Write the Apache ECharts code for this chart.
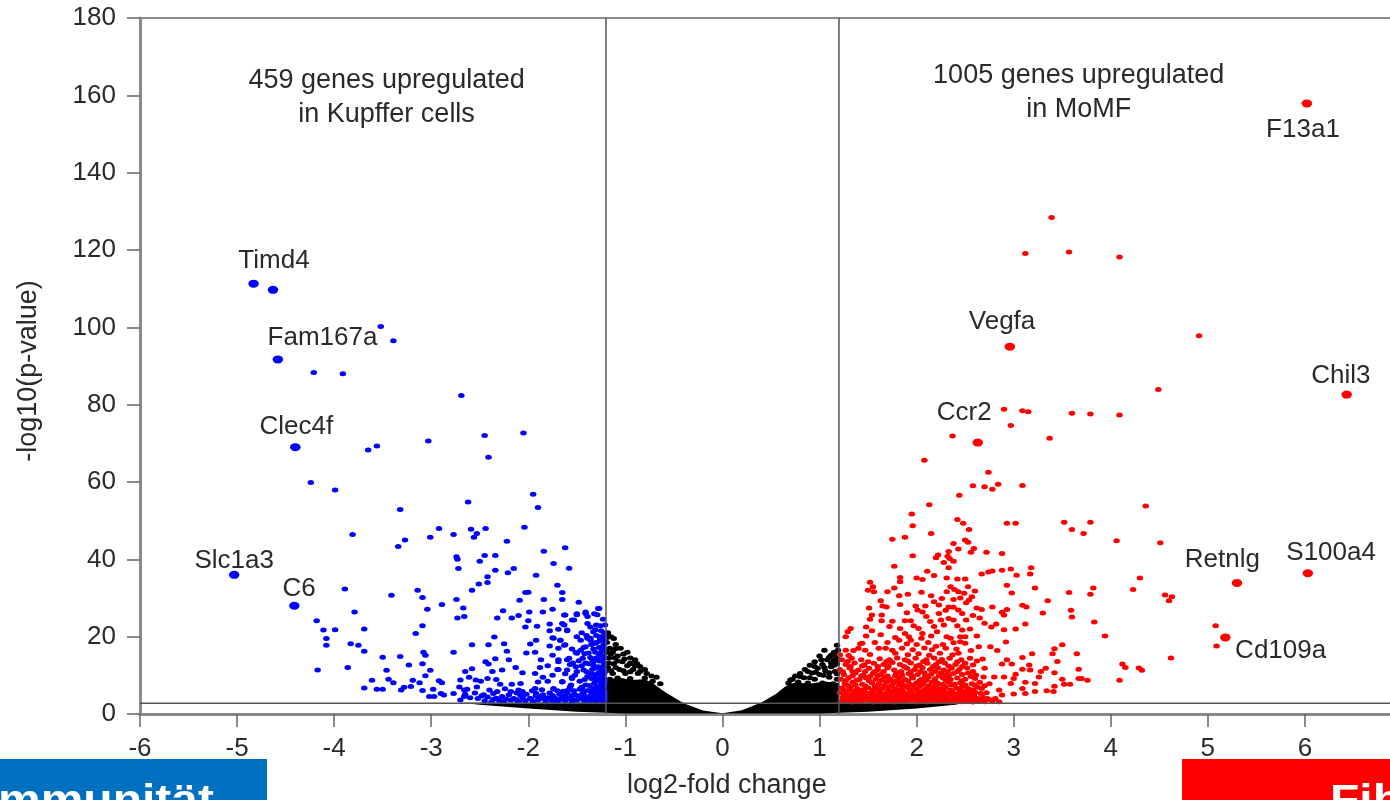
<!DOCTYPE html>
<html>
<head>
<meta charset="utf-8">
<title>Volcano plot</title>
<script src="https://cdn.jsdelivr.net/npm/echarts@6/dist/echarts.min.js"></script>
<style>
html,body{margin:0;padding:0;background:#fff;overflow:hidden}
#chart{width:1390px;height:800px;filter:blur(0.55px)}
</style>
</head>
<body>
<div id="chart"></div>
<script>
const xTicks = [-6,-5,-4,-3,-2,-1,0,1,2,3,4,5,6,7];
const yTicks = [0,20,40,60,80,100,120,140,160,180];
const foldCut = 1.2;
const pCut = 2.8;

const blueLarge = [[-4.83,111.3],[-4.63,109.7],[-4.58,91.7],[-4.4,69],[-5.03,36],[-4.41,28]];
const redLarge = [[6.02,157.9],[2.96,95],[2.63,70.2],[6.43,82.6],[5.3,33.9],[6.03,36.4],[5.18,19.8]];

const geneNames = ['Timd4','Fam167a','Clec4f','Slc1a3','C6','F13a1','Vegfa','Ccr2','Chil3','S100a4','Retnlg','Cd109a'];
const geneX = [-4.62,-4.12,-4.39,-5.03,-4.36,5.98,2.88,2.49,6.37,6.27,5.15,5.75];
const geneY = [117.2,97.3,74.2,39.6,32.3,151,101.4,77.9,87.4,41.7,39.8,16.3];

const noteTexts = ['459 genes upregulated\nin Kupffer cells','1005 genes upregulated\nin MoMF'];
const noteX = [-3.46,3.67];
const noteY = [159.3,160.8];

const blackMass = [[-2.7,2.9],[-1.2,3],[-1.2,9],[-1.05,9.4],[-0.95,8.8],[-0.8,9],[-0.72,8],[-0.6,5.8],[-0.4,2.8],[-0.2,0.9],[0,0.2],[0.2,1],[0.4,3],[0.55,5.2],[0.65,7.2],[0.75,8.2],[0.9,7.8],[1.05,8.4],[1.2,8],[1.2,3],[2.5,3],[2.4,2.4],[2,1.4],[1.5,0.6],[1,0.1],[-1,0.1],[-1.5,0.6],[-2,1.4],[-2.5,2.4]];

const blackPoints = [[-1.18,21],[-1.15,20],[-1.12,19.5],[-1.19,18.5],[-1.1,18],[-1.16,17],[-1.05,17],[-1.13,16],[-1.02,15.5],[-0.98,16],[-1.08,15],[-1.17,14.5],[-0.95,14.5],[-1.03,13.5],[-0.9,14],[-0.88,13],[-1.12,13],[-0.98,12.5],[-0.85,12.3],[-1.18,12],[-1.06,11.5],[-0.92,11.5],[-0.8,11.5],[-0.78,10.5],[-0.87,10.5],[-1,10.5],[-1.13,10.5],[-0.73,9.8],[-0.68,9.5],[-0.8,9.3],[-0.95,9.2],[-1.08,9.3],[-1.16,9],[-0.72,8.5],[-0.85,8.2],[-1.02,8],[-1.15,8],[-0.64,7.8],[-0.93,7.4],
[1.18,17.8],[1.15,16],[1.05,16.5],[1.12,15.2],[1.18,15],[1,15],[1.08,14],[1.15,14],[1.18,13],[0.95,13.5],[1.03,12.8],[0.9,12.6],[1.12,12.2],[0.98,11.8],[1.06,11.2],[0.85,11.5],[0.92,10.6],[0.8,10.5],[1.16,11],[1,10.2],[0.75,9.8],[0.84,9.4],[0.95,9],[1.1,9.5],[1.18,9],[0.7,8.8],[0.78,8.3],[0.88,8],[1.03,8],[1.14,7.8],[0.97,7.2],[1.18,6.9],
[-1.19,19.8],[-1.1,16.9],[-1.15,15.5],[-1.08,13.7],[-1.17,13.2],[-1.01,14.2],[-0.95,13.1],[-1.1,12],[-1.15,11.2],[-1.02,11.2],[-0.95,10.9],[-0.9,12.5],[-0.85,11],[-1.19,16],[-1.11,14.5],[-0.92,13],
[1.19,16.5],[1.1,14.7],[1.02,14],[1.18,14],[1.12,13.2],[0.95,12.3],[1.05,12],[1.15,12.6],[0.88,11],[1.1,10.7],[0.96,10.8],[1.18,10.4],[1.04,10],[0.8,9.7],[0.72,9],[0.68,8],[0.9,9.4]];

const bluePoints = [[-3.52,100.2],[-3.39,96.5],[-4.21,88.3],[-3.91,88],[-2.69,82.4],[-2.05,72.7],[-2.45,72],[-3.03,70.6],[-3.56,69.3],[-3.65,68.3],[-2.41,66.4],[-4.24,59.9],[-3.99,57.9],
[-3.32,52.9],[-2.62,54.8],[-1.95,56.8],[-1.9,53.4],[-3.81,46.4],[-2.92,48],[-3.01,45.7],[-2.77,46.4],[-2.59,47.8],[-2.44,48],[-2.53,46.7],[-2.56,45.7],[-2.04,48.3],[-2.22,44.7],[-3.27,45],[-3.34,43.3],[-1.84,42.1],[-1.62,43],[-2.74,40.7],[-2.73,40],[-2.72,37.6],[-2.5,39.5],[-2.45,41],[-2.34,41],[-2.34,37.2],[-2.21,36.5],[-2.15,37.6],[-1.74,38.9],[-1.58,37.7],[-1.92,35.9],[-2.42,35.5],[-2.42,34],[-2.51,33.6],[-2.58,32],[-1.7,33.3],[-1.65,31.4],[-1.65,29.6],[-2.03,31.4],[-2,31.5],[-2.09,29.4],[-1.84,29.6],[-1.48,28.9],[-1.28,27.3],
[-3.89,32.3],[-3.41,30.7],[-3.14,32],[-3.09,30.1],[-3.04,27.1],[-2.89,28.3],[-2.74,29.6],[-2.67,27.4],[-2.73,24.8],[-2.66,25.2],[-3.79,26.4],[-4.18,24.1],[-4.11,21.7],[-3.99,21.8],[-4.08,19.5],[-4.08,17.8],[-3.69,22],[-3.83,18.2],[-3.75,17.8],[-3.69,16.2],[-4.17,11.4],[-3.86,12],[-3.5,14.7],[-3.32,14.9],[-3.23,12.7],[-3.46,11.3],[-3.61,8.7],[-3.44,9],[-3.39,8.1],[-3.69,6.7],[-3.56,6.4],[-3.5,6.4],[-3.31,6.2],[-3.28,6.9],[-3.21,7.1],[-3.19,8.7],[-3.12,8.1],[-3.09,6.1],[-3.06,9.9],[-3.01,11.3],[-3.09,13],[-3.08,16],[-3.06,15.2],[-3.16,20.8],[-3.09,22.8],[-2.77,16],[-2.58,17.9],[-2.41,17.9],[-2.35,19.9],[-2.25,18.2],[-2.22,16.2],
[-2.32,24.8],[-2.26,26.7],[-2.17,24.8],[-2.1,25.5],[-1.99,26.4],[-2,24.1],[-2.03,22.5],[-1.91,22.7],[-1.85,26.4],[-1.75,27.1],[-1.63,25.6],[-1.5,25.7],[-1.41,26.4],[-1.29,25.7],[-1.39,25.2],[-1.78,23.3],[-1.78,21.5],[-1.63,23],[-1.53,24.3],[-1.6,21.7],[-1.74,19.6],[-1.67,19.1],[-1.63,17.8],[-1.78,17.6],[-1.92,19.1],[-1.98,18.1],[-2.02,15.8],[-1.93,16],[-1.87,14],[-1.75,15.2],[-1.69,13.5],[-1.6,14],[-1.5,15.7],[-1.41,17.4],[-1.36,19.6],[-1.26,20],[-1.46,19.1],
[-2.34,14.3],[-2.44,13.5],[-2.41,12.9],[-2.2,14],[-2.13,12],[-2.06,10.7],[-1.93,10.5],[-1.88,12],[-1.7,11.5],[-1.55,9.2],[-1.65,8.3],[-1.9,8.3],[-2.58,11.7],[-2.65,11],[-2.37,11],[-2.27,11.4],[-2.7,8.8],[-2.61,9.5],[-2.54,8.8],[-2.49,8.5],[-2.42,9.2],[-2.33,8.9],[-2.29,7.7],[-2.17,7.7],[-2.08,7.9],[-2.71,7],[-2.66,6.2],[-2.53,7],[-2.32,5.8],[-2.18,5.8],[-2.06,5.8],[-1.93,6.6],[-1.74,6.4],[-1.57,7],[-2.92,8.6],[-2.89,8.1],[-2.98,6.4],[-3.02,4.5],[-2.97,4.5],[-2.9,5.3],[-2.87,4.9],[-2.77,5.3],[-2.66,4.5],[-2.7,3.6],
[-1.27,27.3],[-1.41,26],[-1.32,25.9],[-1.62,25.6],[-1.5,25.9],[-1.55,24.3],[-1.65,23.4],[-1.39,23.4],[-1.6,21.5],[-1.69,21.9],[-1.33,21.3],[-1.75,19.7],[-1.67,19.1],[-1.62,17.9],[-1.69,17],[-1.39,19.6],[-1.36,19.1],[-1.26,19.6],[-1.43,17.2],[-1.31,18.3],[-1.24,17.4],[-1.51,15.9],[-1.58,14.4],[-1.69,14],[-1.44,14.4],[-1.26,15.7],[-1.33,13.5],[-1.51,12.2],[-1.69,11.5],[-1.6,11.4],[-1.43,11.4],[-1.29,11.8],[-1.39,9.7],[-1.26,9.2],[-1.55,9.5],[-1.65,8.4],[-1.41,7.5],[-1.56,7.5],[-1.29,7.1],[-1.74,6.6],
[-2.45,3.4],[-2.38,3.1],[-2.3,3.5],[-2.25,3.2],[-2.18,3.6],[-2.1,3.1],[-2.03,3.4],[-1.95,3.2],[-1.9,3.6],[-1.82,3.1],[-1.75,3.4],[-1.7,3.2],[-1.62,3.5],[-1.55,3.1],[-1.5,3.6],[-1.42,3.2],[-1.36,3.5],[-1.3,3.1],[-1.24,3.4],
[-2.6,4.2],[-2.52,4],[-2.42,4.4],[-2.33,4.1],[-2.27,4.5],[-2.15,4],[-2.06,4.4],[-1.98,4.1],[-1.88,4.5],[-1.8,4.2],[-1.72,4],[-1.65,4.4],[-1.58,4.1],[-1.47,4.5],[-1.4,4],[-1.33,4.3],[-1.26,4.1],[-1.21,4.5],
[-2.65,5.1],[-2.55,5.4],[-2.46,5],[-2.36,5.3],[-2.2,5],[-2.12,5.4],[-2.02,5.1],[-1.92,5.3],[-1.85,5],[-1.78,5.4],[-1.68,5.1],[-1.6,5.4],[-1.52,5],[-1.44,5.3],[-1.35,5.1],[-1.28,5.4],[-1.22,5.1],
[-2.63,6.4],[-2.4,6.2],[-2.24,6.5],[-2.1,6.2],[-1.96,6],[-1.86,6.3],[-1.7,6],[-1.59,6.2],[-1.47,6.4],[-1.38,6.1],[-1.3,6.4],[-1.23,6.2],
[-1.22,8],[-1.3,8.8],[-1.24,9.8],[-1.35,10.5],[-1.21,11],[-1.28,12.2],[-1.22,13],[-1.38,13],[-1.3,14.5],[-1.22,15],[-1.42,15.6],[-1.24,16.5],[-1.33,16.8],[-1.22,18],[-1.3,18.5],[-1.22,20],[-1.25,21.5],[-1.21,23],[-1.3,23],[-1.23,24.5],[-1.36,22.5],[-1.45,21],[-1.5,20],[-1.45,12.5],[-1.5,11],[-1.52,10],[-1.47,8.5],[-1.37,7.4],[-1.22,6.9],[-1.21,9],[-1.27,10.7],[-1.34,11.6],[-1.24,14],[-1.36,14.6],[-1.27,17.2],[-1.21,19],[-1.57,12.8],[-1.62,10.4],[-1.75,10],[-1.8,8.5],[-1.8,12.5],[-1.85,9.5],
[-1.97,3.8],[-1.89,3.9],[-1.83,3.8],[-1.76,3.7],[-1.68,3.7],[-1.61,3.8],[-1.54,3.7],[-1.48,3.9],[-1.43,3.8],[-1.37,3.8],[-1.31,3.7],[-1.25,3.8],[-1.21,3.7],[-2.36,3.8],[-2.23,3.9],[-2.12,3.7],[-2.05,3.8],
[-1.75,4.8],[-1.62,4.7],[-1.55,4.8],[-1.49,4.7],[-1.42,4.8],[-1.36,4.6],[-1.3,4.8],[-1.24,4.7],[-1.92,4.7],[-2.08,4.8],[-2.48,4.7],
[-1.53,6],[-1.42,6],[-1.34,5.8],[-1.26,5.8],[-1.21,5.7],[-1.64,5.9],[-1.45,6.9],[-1.33,6.7],[-1.26,6.6],[-1.25,7.6],[-1.32,8],[-1.21,8.4],[-1.26,8.5],[-1.42,8.9],[-1.35,9.2],[-1.31,9.7],[-1.22,10.3],[-1.29,10.4],[-1.4,10.9],[-1.25,11.5],[-1.33,12.6],[-1.41,13.2],[-1.23,12.3],[-1.27,13.7],[-1.34,14],[-1.48,13.8],[-1.54,13.2],[-1.22,14.5],[-1.27,15.1],[-1.38,15.8],[-1.31,16],[-1.22,16.9],[-1.46,16.5],[-1.55,16.8],[-1.27,18.8],[-1.35,18],[-1.22,19.5],[-1.3,20.3],[-1.4,20.3],[-1.22,21],[-1.31,21.8],[-1.26,22.8]];

const redPoints = [[3.39,128.4],[3.12,119.1],[3.57,119.5],[4.09,118.2],[4.91,97.8],[4.49,83.9],[2.9,78.8],[3.09,78.4],[3.15,78.2],[3.6,77.8],[3.79,77.6],[4.09,77.3],[2.97,74.6],[2.37,71.9],[3.37,71.3],[2.08,65.6],[2.74,62.5],[2.58,59],[2.7,58.8],[2.84,59.4],[3.09,59.1],[2.78,58.1],
[2.44,56.6],[2.13,54.1],[4.36,53.8],[1.95,51.7],[2.42,50.3],[2.48,49.3],[2.93,49.3],[3.02,49.3],[3.52,49.6],[3.6,47.7],[3.72,46.7],[3.79,49.6],[4.06,44.8],[4.51,44.3],[1.96,48.7],[2.54,47.7],[2.15,46.7],[1.88,45.7],[1.75,45.2],[2.38,44.1],[2.5,45],[2.53,44.4],[2.43,42.7],[2.59,42.8],[2.56,41.8],[2.72,41.8],[2.88,41.5],[2.33,42],[2.32,40.8],[2.34,40.2],[2.22,41.1],[2.2,40.4],[1.96,40.9],[2.28,39.2],[2.38,39.5],[2.33,37.8],[1.77,38.2],[2.11,36.9],[2,35.2],[2.06,34.8],[2.18,35.8],[2.31,35.2],[2.42,34.9],[2.5,34.9],[1.83,35.3],[1.83,34.2],[2.67,36.2],[2.74,36.7],[2.78,37],[2.88,37.2],[2.97,37.5],[3.03,35.9],[3.18,37.8],[3.17,36.2],[4.3,35.2],[3.82,32.6],[3.79,31],[4.23,32.2],[4.56,30.8],[4.63,30.3],[4.6,29.3],[5.08,22.8],[5.09,17.6],[4.62,14.5],
[1.52,34.1],[1.55,32.9],[1.5,32],[1.56,31.6],[1.7,31.6],[1.77,32.6],[1.82,30.6],[1.91,31],[2.31,31.6],[2.35,32.9],[2.39,32.2],[2.43,31.6],[2.49,31.2],[2.53,32.9],[2.93,33.3],[2.98,31.3],[3.22,32.6],[3.57,31.4],[3.35,29.3],[2.26,29.9],[2.18,29],[2.23,28.2],[2.38,29.6],[2.57,30.3],[2.54,29.5],[2.51,28.8],[1.63,29.3],[1.65,27.9],[1.69,27.7],[1.83,28.3],[1.51,27.4],[1.99,27.9],[2.01,26.9],[2.09,27.9],[2.06,26.4],[2.33,27.7],[2.38,27.6],[2.43,26.9],[2.47,26],[2.62,27.4],[2.67,27],[2.78,27.7],[2.93,27],[2.88,26.3],[2.9,25.6],[3.09,28.1],[3.13,27.7],[3.59,26.8],[3.6,25.1],[3.3,26.1],[3.83,23.8],[3.94,20.2],
[1.54,25.6],[1.52,24.5],[1.64,25.6],[1.64,24.1],[1.88,24.1],[1.94,24.1],[2.23,26],[2.14,23.9],[2.25,24.3],[2.33,24.7],[2.38,24.3],[2.51,24.3],[2.82,23.3],[2.77,22.5],[2.9,21.8],[3.02,22],[3.12,23.3],[1.48,22.5],[1.54,21.5],[1.72,22.6],[1.83,22.1],[1.63,20.5],[1.48,20.2],[1.32,22.1],[1.29,21.3],[1.27,20],[2.02,22.1],[2.06,20.8],[2.18,22.6],[2.21,21.3],[2.31,20],[2.47,21.7],[2.5,20],[2.62,20.2],[1.88,20.8],[1.82,19.1],[1.94,19.1],[2.92,18.6],[2.5,18.3],[2.64,17.4],[1.44,18.3],[1.27,16.5],[1.35,16.4],[1.47,16.5],[1.61,17],[1.68,17],[2.76,17.4],[2.83,16.4],[3.19,15.6],[3.5,17.9],[3.42,16.9],[3.4,15.6],[3.65,15.6],[3.09,14.6],[2.93,14],[2.88,12.9],[2.98,12.9],[3.16,12.7],[3.45,13.6],[3.67,11.6],[4.12,12.9],[4.15,12],[4.29,11.9],[4.32,11.3],[4.09,8.7],[3.76,8.7],[3.7,9.2],
[2.7,11.8],[3.09,11.6],[3.17,11.4],[3.33,11.8],[3.28,11],[3.42,10.7],[3.26,9.6],[2.9,9.6],[3.02,10.3],[3,9.2],[2.8,9.6],[2.69,9.6],[2.61,10.1],[3.5,9],[3.52,7.7],[3.58,7.7],[3.67,9.2],[3.12,8.2],[3.22,7.9],[3.42,7.2],[3.34,6],[3.41,5.8],[3.22,5.8],[3.12,5.3],[3,5.2],[2.97,7.9],[3.09,6.6],[2.85,6.2],[2.88,4.9],[2.81,4],[2.73,4],[2.67,6.6],
[1.22,3.2],[1.27,3.5],[1.33,3.1],[1.38,3.4],[1.43,3.2],[1.49,3.6],[1.55,3.1],[1.6,3.4],[1.66,3.2],[1.72,3.5],[1.77,3.1],[1.83,3.4],[1.89,3.2],[1.94,3.6],[2,3.1],[2.05,3.3],[2.11,3.1],[2.17,3.5],[2.23,3.2],[2.28,3.4],[2.34,3.1],[2.4,3.5],[2.46,3.2],[2.52,3.4],[2.58,3.1],[2.64,3.3],[2.7,3.2],[2.78,3.3],[2.85,3.2],
[1.24,4.3],[1.3,4.6],[1.36,4.2],[1.41,4.5],[1.47,4.1],[1.53,4.4],[1.59,4.7],[1.64,4.2],[1.7,4.5],[1.75,4.1],[1.81,4.6],[1.87,4.3],[1.92,4.6],[1.98,4.2],[2.04,4.5],[2.09,4.1],[2.15,4.4],[2.21,4.7],[2.26,4.2],[2.32,4.5],[2.38,4.1],[2.44,4.4],[2.5,4.2],[2.56,4.5],[2.62,4.1],[2.68,4.4],
[1.21,5.5],[1.28,5.8],[1.35,5.3],[1.42,5.6],[1.46,5.9],[1.52,5.4],[1.62,5.7],[1.68,5.3],[1.74,5.8],[1.8,5.5],[1.86,5.9],[1.95,5.4],[2.02,5.7],[2.08,5.3],[2.13,5.8],[2.2,5.5],[2.25,5.9],[2.31,5.4],[2.37,5.7],[2.43,5.3],[2.48,5.8],[2.55,5.5],[2.6,5.7],[2.66,5.3],[2.72,5.5],
[1.23,6.7],[1.32,7],[1.39,6.5],[1.5,6.8],[1.57,7.1],[1.65,6.6],[1.71,6.9],[1.78,6.5],[1.9,7],[1.97,6.7],[2.03,7.1],[2.1,6.6],[2.18,6.9],[2.24,6.5],[2.3,7],[2.41,6.7],[2.47,7.1],[2.53,6.6],[2.63,6.9],[2.7,7.3],
[1.26,7.8],[1.34,8.2],[1.44,7.7],[1.54,8.1],[1.61,7.8],[1.69,8.3],[1.76,7.9],[1.84,8.2],[1.93,7.7],[2,8.1],[2.07,7.8],[2.16,8.3],[2.22,7.9],[2.33,8.2],[2.39,7.7],[2.45,8.1],[2.57,7.8],[2.65,8.2],[2.75,7.8],
[1.22,9],[1.3,9.4],[1.41,8.9],[1.48,9.3],[1.58,9],[1.67,9.5],[1.73,9],[1.82,9.4],[1.88,8.9],[1.96,9.3],[2.05,9],[2.12,9.5],[2.19,9.1],[2.27,9.4],[2.35,8.9],[2.42,9.3],[2.5,9],[2.6,9.2],
[1.25,10.2],[1.37,10.6],[1.45,10.1],[1.55,10.5],[1.63,10.2],[1.79,10.6],[1.85,10.1],[1.92,10.5],[2.01,10.2],[2.08,10.7],[2.15,10.3],[2.25,10.6],[2.3,10.1],[2.38,10.5],[2.47,10.2],[2.53,10.6],
[1.21,11.5],[1.31,11.9],[1.4,11.4],[1.51,11.8],[1.6,11.5],[1.7,11.9],[1.77,11.4],[1.9,11.8],[1.98,11.5],[2.06,12],[2.14,11.5],[2.22,11.9],[2.28,11.4],[2.36,11.8],[2.44,11.5],[2.52,11.9],
[1.27,12.8],[1.36,13.2],[1.46,12.7],[1.56,13.1],[1.66,12.8],[1.75,13.3],[1.83,12.8],[1.94,13.2],[2.03,12.7],[2.11,13.1],[2.2,12.8],[2.29,13.2],[2.4,12.8],[2.5,13.1],[2.58,12.7],
[1.23,14],[1.33,14.4],[1.43,14],[1.62,14.3],[1.72,14],[1.8,14.5],[1.88,14],[1.99,14.4],[2.1,14],[2.18,14.5],[2.26,14.1],[2.34,14.4],[2.46,14],[2.55,14.4],
[1.21,15.3],[1.3,15.1],[1.52,15.4],[1.78,15.7],[1.91,15.3],[2.02,15.6],[2.13,15.2],[2.24,15.7],[2.37,15.3],[2.43,15.7],[2.56,16.4],[2.41,16.8],[2.3,17],[2.16,16.6],[2.08,17.1],[1.96,16.6],[1.85,17],[1.75,16.5],[1.4,17],[1.9,18.2],[2,18],[2.12,18.5],[2.27,18],[2.38,18.4],[1.42,18.2],[1.57,18.5],[1.78,19.8],[1.92,20],[2.05,19.6],[2.15,20.2],[2.35,19.6],[2.45,20],
[1.25,3.9],[1.32,3.7],[1.4,3.9],[1.45,3.8],[1.52,3.7],[1.57,4],[1.63,3.8],[1.69,3.9],[1.79,3.8],[1.85,3.9],[1.91,3.7],[1.97,3.9],[2.03,3.8],[2.08,3.9],[2.14,3.8],[2.2,3.9],[2.25,3.7],[2.31,3.9],[2.37,3.7],[2.43,3.9],[2.49,3.7],[2.55,3.9],[2.61,3.7],[2.67,3.8],[2.75,3.7],
[1.26,5],[1.33,5],[1.39,4.9],[1.44,5.1],[1.5,5],[1.56,5.2],[1.61,5],[1.67,4.9],[1.72,5.1],[1.78,5],[1.84,5],[1.9,5.1],[1.96,5],[2.01,5],[2.07,5.1],[2.12,5],[2.18,5.1],[2.24,5],[2.29,5],[2.35,5.1],[2.41,4.9],[2.47,5],[2.53,5],[2.59,5],
[1.25,6.2],[1.31,6.3],[1.37,6.1],[1.45,6.3],[1.55,6.2],[1.6,6.3],[1.71,6.1],[1.77,6.2],[1.84,6.4],[1.93,6.2],[2,6.3],[2.07,6.1],[2.16,6.3],[2.22,6.2],[2.28,6.4],[2.35,6.2],[2.45,6.2],[2.52,6.1],[2.58,6.3],
[1.29,7.4],[1.37,7.5],[1.47,7.3],[1.6,7.3],[1.67,7.4],[1.74,7.3],[1.82,7.5],[1.87,7.4],[1.96,7.4],[2.05,7.5],[2.13,7.4],[2.2,7.5],[2.27,7.6],[2.36,7.5],[2.5,7.5],[2.6,7.5],
[1.27,8.6],[1.38,8.7],[1.51,8.6],[1.64,8.7],[1.72,8.7],[1.79,8.6],[1.91,8.6],[2.03,8.6],[2.1,8.7],[2.19,8.6],[2.3,8.7],[2.47,8.6],
[1.34,9.9],[1.43,9.8],[1.52,9.7],[1.6,9.9],[1.7,9.8],[1.78,9.9],[1.95,9.8],[2.09,9.9],[2.23,9.9],[2.33,9.8],[2.56,9.7],
[1.24,10.9],[1.34,11],[1.47,11],[1.57,11],[1.66,11],[1.84,11],[1.94,10.9],[2.04,11],[2.19,11],[2.32,11],[2.42,11],[2.58,11],
[1.32,12.3],[1.44,12.4],[1.6,12.3],[1.71,12.4],[1.87,12.3],[2,12.4],[2.17,12.3],[2.33,12.4],[2.47,12.3],
[1.29,13.6],[1.5,13.5],[1.69,13.6],[1.91,13.7],[2.07,13.6],[2.23,13.5],[2.42,13.5],[2.62,13.7],[2.68,14.2],
[1.7,18.5],[2.2,17.5],[2.45,18.7],[2.55,22],[2.42,22.8],[2.28,23],[1.97,22.8],[1.75,24],[2.1,25.2],[2.58,25.5],[2.3,26.8],[1.9,26.2],[2.15,30.6],[2.05,31.5],[2.45,30],[2.6,31.8],[2.7,23.5],[2.65,24.8]];

const textColor = '#2a2a2a';
const dotSize = [6.5,5];
const bigDotSize = [10.5,8];
const option = {
  animation: false,
  backgroundColor: '#ffffff',
  textStyle: { fontFamily: 'Liberation Sans' },
  grid: { left: 140, top: 18, width: 1262, height: 696, outerBoundsMode: 'none', show: true, borderColor: '#8a8a8a', borderWidth: 2, backgroundColor: '#ffffff' },
  xAxis: {
    type: 'value', min: xTicks[0], max: xTicks[xTicks.length-1], interval: 1,
    splitLine: { show: false },
    axisLine: { onZero: false, lineStyle: { color: '#8a8a8a', width: 3 } },
    axisTick: { length: 13, lineStyle: { color: '#666', width: 1.5 } },
    axisLabel: { color: textColor, fontSize: 26, margin: 22 }
  },
  yAxis: {
    type: 'value', min: yTicks[0], max: yTicks[yTicks.length-1], interval: 20,
    name: '-log10(p-value)', nameLocation: 'middle', nameGap: 98, nameRotate: 90,
    nameTextStyle: { color: textColor, fontSize: 27, padding: [0,10,0,0] },
    splitLine: { show: false },
    axisLine: { show: true, onZero: false, lineStyle: { color: '#8a8a8a', width: 3 } },
    axisTick: { show: true, length: 13, lineStyle: { color: '#666', width: 1.5 } },
    axisLabel: { color: textColor, fontSize: 26, margin: 24, padding: [4,0,0,0] }
  },
  series: [
    { type: 'custom', z: 2, silent: true, coordinateSystem: 'cartesian2d', data: blackMass,
      renderItem: function (params, api) {
        if (params.dataIndex !== 0) return null;
        return { type: 'polygon', shape: { points: blackMass.map(function (p) { return api.coord(p); }) }, style: { fill: '#000' } };
      } },
    { type: 'scatter', z: 3, silent: true, data: blackPoints, symbol: 'circle', symbolSize: dotSize, itemStyle: { color: '#000', opacity: 1 } },
    { type: 'scatter', z: 4, silent: true, data: bluePoints, symbol: 'circle', symbolSize: dotSize, itemStyle: { color: '#0000ff', opacity: 1 } },
    { type: 'scatter', z: 4, silent: true, data: redPoints, symbol: 'circle', symbolSize: dotSize, itemStyle: { color: '#ff0000', opacity: 1 } },
    { type: 'scatter', z: 5, silent: true, data: blueLarge, symbol: 'circle', symbolSize: bigDotSize, itemStyle: { color: '#0000ff', opacity: 1 } },
    { type: 'scatter', z: 5, silent: true, data: redLarge, symbol: 'circle', symbolSize: bigDotSize, itemStyle: { color: '#ff0000', opacity: 1 } },
    { type: 'line', z: 6, silent: true, symbol: 'none', data: [[-foldCut,0],[-foldCut,180]], lineStyle: { color: '#555', width: 1.5 } },
    { type: 'line', z: 6, silent: true, symbol: 'none', data: [[foldCut,0],[foldCut,180]], lineStyle: { color: '#555', width: 1.5 } },
    { type: 'line', z: 6, silent: true, symbol: 'none', data: [[xTicks[0],pCut],[xTicks[xTicks.length-1],pCut]], lineStyle: { color: '#555', width: 1.5 } },
    { type: 'scatter', z: 7, silent: true, symbolSize: 0, itemStyle: { opacity: 1 },
      data: geneNames.map(function (n, i) { return { name: n, value: [geneX[i], geneY[i]] }; }),
      label: { show: true, position: 'inside', formatter: '{b}', color: textColor, fontSize: 26, opacity: 1 } },
    { type: 'scatter', z: 7, silent: true, symbolSize: 0, itemStyle: { opacity: 1 },
      data: noteTexts.map(function (n, i) { return { name: n, value: [noteX[i], noteY[i]] }; }),
      label: { show: true, position: 'inside', formatter: '{b}', color: textColor, fontSize: 27, lineHeight: 34, align: 'center', opacity: 1 } }
  ],
  graphic: [
    { type: 'text', left: 627, top: 772, z: 20, style: { text: 'log2-fold change', fill: textColor, font: '27px "Liberation Sans"' } },
    { type: 'rect', left: 0, top: 759, shape: { width: 267, height: 41 }, style: { fill: '#0070c0' }, z: 30 },
    { type: 'rect', left: 1182, top: 759, shape: { width: 208, height: 41 }, style: { fill: '#ff0000' }, z: 30 },
    { type: 'text', x: -2, y: 782, scaleX: 1.2, z: 31, style: { text: 'mmunität', fill: '#fff', font: 'bold 40px "Liberation Sans"' } },
    { type: 'text', x: 1330, y: 782, scaleX: 1.2, z: 31, style: { text: 'Fib', fill: '#fff', font: 'bold 40px "Liberation Sans"' } }
  ]
};
const chart = echarts.init(document.getElementById('chart'), null, { renderer: 'canvas', width: 1390, height: 800 });
chart.setOption(option);
</script>
</body>
</html>
